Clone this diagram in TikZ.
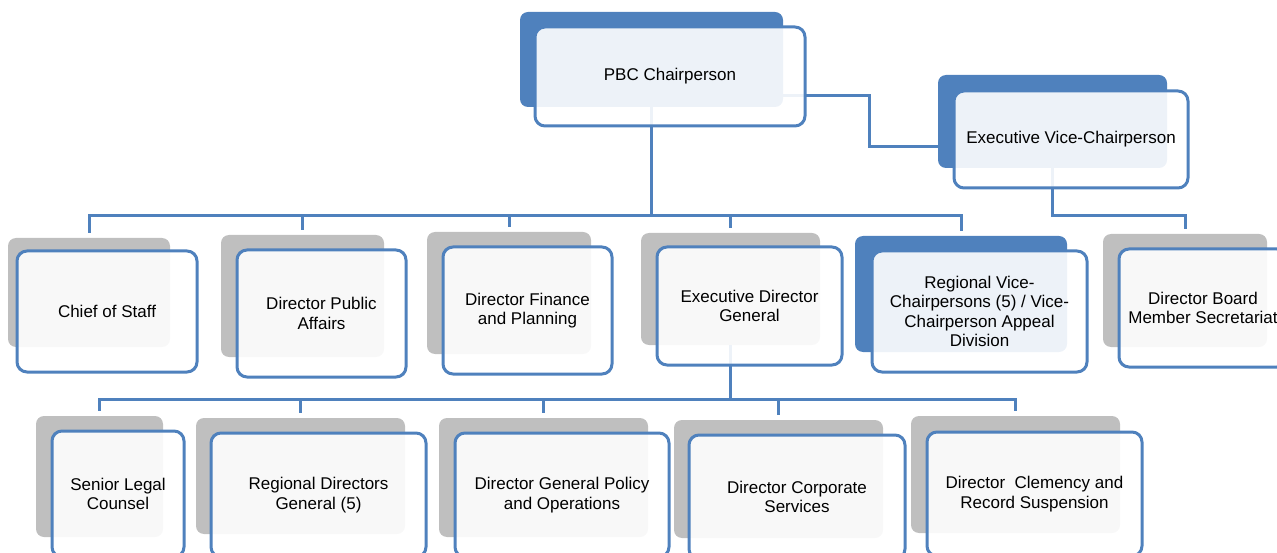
\documentclass[tikz,border=0pt]{standalone}
\usepackage{fontspec}
\setmainfont{Liberation Sans}
\usepackage{tikz}
\usetikzlibrary{calc}
\definecolor{steel}{HTML}{4F81BD}
\definecolor{ash}  {HTML}{BFBFBF}

\tikzset{
  backing/.style={fill=#1, rounded corners=8pt, inner sep=0pt, outer sep=0pt},
  card/.style={draw=steel, line width=3pt, fill=white, fill opacity=0.9,
    text opacity=1, rounded corners=10pt, inner sep=3pt, align=center,
    font=\fontsize{17}{19.5}\selectfont},
  wire/.style={draw=steel, line width=3pt}
}

\begin{document}
\begin{tikzpicture}[x=1pt, y=-1pt]
  \useasboundingbox (0,0) rectangle (1277,553);
  \clip (0,0) rectangle (1277,553);

  % backing plates
  \node[backing=steel, minimum width=263pt, minimum height=95pt]  (pbc)     at (651.5,59.5) {};
  \node[backing=steel, minimum width=229pt, minimum height=93pt]  (evp)     at (1052.5,121.5) {};
  \node[backing=ash,   minimum width=162pt, minimum height=109pt] (chief)   at (89,292.5) {};
  \node[backing=ash,   minimum width=163pt, minimum height=122pt] (affairs) at (302.5,296) {};
  \node[backing=ash,   minimum width=164pt, minimum height=122pt] (finance) at (509,293) {};
  \node[backing=ash,   minimum width=179pt, minimum height=112pt] (edg)     at (730.5,289) {};
  \node[backing=steel, minimum width=212pt, minimum height=116pt] (rvc)     at (961,294) {};
  \node[backing=ash,   minimum width=164pt, minimum height=113pt] (board)   at (1185,290.5) {};
  \node[backing=ash,   minimum width=127pt, minimum height=121pt] (legal)   at (99.5,476.5) {};
  \node[backing=ash,   minimum width=209pt, minimum height=116pt] (rdg)     at (300.5,476) {};
  \node[backing=ash,   minimum width=209pt, minimum height=119pt] (policy)  at (543.5,477.5) {};
  \node[backing=ash,   minimum width=209pt, minimum height=118pt] (corp)    at (778.5,479) {};
  \node[backing=ash,   minimum width=209pt, minimum height=117pt] (clem)    at (1015.5,474.5) {};

  % reporting lines
  \coordinate (top bus) at (0,216);
  \coordinate (low bus) at (0,399);
  \coordinate (evp bend) at (869,96);
  \draw[wire] ([yshift=-36.5pt]pbc.east) -- (evp bend) |- ([yshift=-25.5pt]evp.west);
  \foreach \n in {chief,affairs,finance,edg,rvc}
    \draw[wire] (pbc.south) |- (top bus -| \n.north) -- ([yshift=5pt]\n.north);
  \draw[wire] (evp.south) |- (top bus -| board.north) -- ([yshift=5pt]board.north);
  \foreach \n in {legal,rdg,policy,corp,clem}
    \draw[wire] (edg.south) |- (low bus -| \n.north) -- ([yshift=5pt]\n.north);

  % cards
  \node[card, minimum width=270pt, minimum height=99pt]  (pbc card)     at (670,76.5)    {PBC Chairperson};
  \node[card, minimum width=234pt, minimum height=97pt]  (evp card)     at (1071,139.5)  {Executive Vice-Chairperson};
  \node[card, minimum width=180pt, minimum height=121pt] (chief card)   at (107,311.5)   {Chief of Staff};
  \node[card, minimum width=169pt, minimum height=127pt] (affairs card) at (321.5,313.5) {Director Public\\Affairs};
  \node[card, minimum width=169pt, minimum height=127pt] (finance card) at (527.5,310.5) {Director Finance\\and Planning};
  \node[card, minimum width=185pt, minimum height=118pt] (edg card)     at (749.5,306)   {Executive Director\\General};
  \node[card, minimum width=215pt, minimum height=121pt] (rvc card)     at (979.5,311.5) {Regional Vice-\\Chairpersons (5) / Vice-\\Chairperson Appeal\\Division};
  \node[card, minimum width=168pt, minimum height=118pt] (board card)   at (1203,308)    {Director Board\\Member Secretariat};
  \node[card, minimum width=132pt, minimum height=126pt] (legal card)   at (118,494)     {Senior Legal\\Counsel};
  \node[card, minimum width=215pt, minimum height=124pt] (rdg card)     at (318.5,495)   {Regional Directors\\General (5)};
  \node[card, minimum width=214pt, minimum height=124pt] (policy card)  at (562,495)     {Director General Policy\\and Operations};
  \node[card, minimum width=216pt, minimum height=124pt] (corp card)    at (797,497)     {Director Corporate\\Services};
  \node[card, minimum width=215pt, minimum height=124pt] (clem card)    at (1034.5,494)  {Director\ \ Clemency and\\Record Suspension};
\end{tikzpicture}
\end{document}
